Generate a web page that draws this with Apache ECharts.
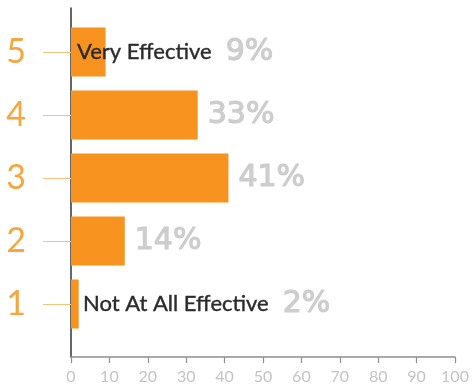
<!DOCTYPE html>
<html>
<head>
<meta charset="utf-8">
<script src="https://cdn.jsdelivr.net/npm/echarts@6/dist/echarts.min.js"></script>
<style>
  html, body { margin: 0; padding: 0; background: #fff; }
  #chart { width: 472px; height: 390px; }
</style>
</head>
<body>
<div id="chart"></div>
<script>
// Rating scale (1 = lowest, 5 = highest) and share of responses in percent
const ratings = ['1', '2', '3', '4', '5'];
const shares = [2, 14, 41, 33, 9];
const xTicks = [0, 10, 20, 30, 40, 50, 60, 70, 80, 90, 100];
// Captions for the two ends of the scale
const endCaptions = { '1': 'Not At All Effective', '5': 'Very Effective' };
const captionInset = { '1': 12, '5': 6 };

const ORANGE = '#F7931E';
const LABEL_ORANGE = '#F6A63C';
const PCT_GREY = '#CDCDCD';

const barData = shares.map((v, i) => {
  const r = ratings[i];
  const item = { value: v };
  if (endCaptions[r]) {
    item.label = {
      position: [captionInset[r], '50%'],
      align: 'left',
      verticalAlign: 'middle',
      formatter: '{t|' + endCaptions[r] + '}{p|' + v + '%}'
    };
  }
  return item;
});

const chart = echarts.init(document.getElementById('chart'), null, { renderer: 'canvas' });
chart.setOption({
  animation: false,
  grid: [
    // bar area
    { left: 71, right: 17, top: 20.5, height: 315, containLabel: false },
    // outer frame carrying the visible axes
    { left: 71, right: 17, top: 8, bottom: 33, containLabel: false }
  ],
  xAxis: [
    { gridIndex: 0, type: 'value', min: 0, max: 100, show: false },
    {
      gridIndex: 1, type: 'value', min: 0, max: 100, interval: 10,
      axisLine: { show: true, lineStyle: { color: '#8E8E8E', width: 1.5 } },
      axisTick: { show: true, length: 6, lineStyle: { color: '#8E8E8E', width: 1.2 } },
      splitLine: { show: false },
      axisLabel: {
        color: '#C4C4C4', fontSize: 16, fontFamily: 'Lato', margin: 12,
        customValues: xTicks
      }
    }
  ],
  yAxis: [
    {
      gridIndex: 0, type: 'category', data: ratings, offset: 9,
      axisLine: { show: false },
      axisTick: { show: true, alignWithLabel: true, length: 28, lineStyle: { color: '#F8C27E', width: 1 } },
      axisLabel: { color: LABEL_ORANGE, fontSize: 34, fontFamily: 'Lato', margin: 36 },
      splitLine: { show: false }
    },
    {
      gridIndex: 1, type: 'value', min: 0, max: 1,
      axisLine: { show: true, lineStyle: { color: '#333', width: 1.5 } },
      axisTick: { show: false }, axisLabel: { show: false }, splitLine: { show: false }
    }
  ],
  series: [
    {
      type: 'bar',
      xAxisIndex: 0, yAxisIndex: 0,
      data: barData,
      barWidth: 49,
      itemStyle: { color: ORANGE },
      label: {
        show: true,
        position: 'right',
        distance: 10,
        formatter: '{p|{c}%}',
        rich: {
          t: {
            fontSize: 22, fontFamily: 'Lato', color: '#2B2B2B',
            textBorderColor: '#2B2B2B', textBorderWidth: 0.4,
            padding: [0, 14, 0, 0]
          },
          p: {
            fontSize: 30, fontFamily: 'DejaVu Sans', color: PCT_GREY,
            textBorderColor: PCT_GREY, textBorderWidth: 1.2
          }
        }
      }
    }
  ]
});
</script>
</body>
</html>
